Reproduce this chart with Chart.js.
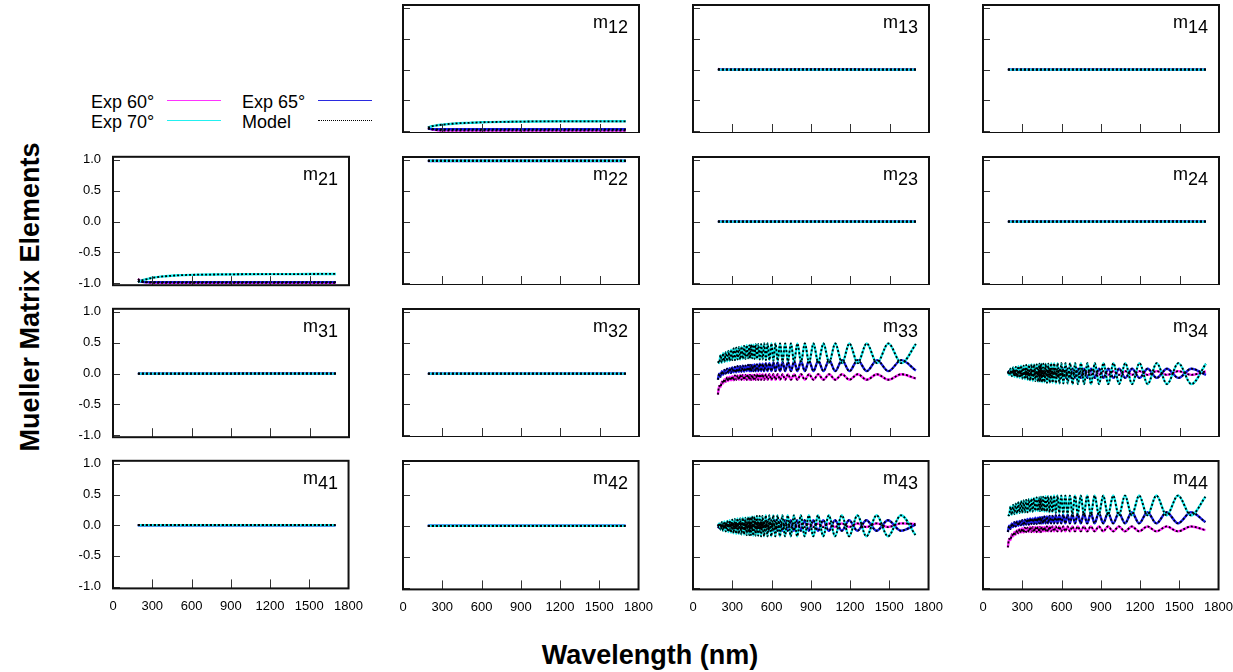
<!DOCTYPE html>
<html>
<head>
<meta charset="utf-8">
<script src="https://cdn.jsdelivr.net/npm/chart.js@4.4.1/dist/chart.umd.min.js"></script>
<style>
  body { margin: 0; background: #fff; width: 1233px; height: 672px; position: relative; overflow: hidden;
         font-family: "Liberation Sans", Arial, sans-serif; color: #000; }
  .cell { position: absolute; }
  .lbl { position: absolute; font-size: 18px; line-height: 18px; white-space: nowrap; }
  .lbl sub { font-size: 18px; vertical-align: -5px; line-height: 0; }
  .leg { position: absolute; font-size: 18px; line-height: 18px; white-space: nowrap; }
  .legline { position: absolute; width: 54px; height: 0; }
  .title { position: absolute; font-weight: bold; font-size: 27px; white-space: nowrap; }
</style>
</head>
<body>
<div class="leg" style="left:91px;top:93px">Exp 60°</div>
<div class="legline" style="left:167px;top:100px;border-top:1.5px solid #ff33ff"></div>
<div class="leg" style="left:242px;top:93px">Exp 65°</div>
<div class="legline" style="left:318px;top:100px;border-top:1.5px solid #2a2ae0"></div>
<div class="leg" style="left:91px;top:113px">Exp 70°</div>
<div class="legline" style="left:167px;top:120px;border-top:1.5px solid #22f0f0"></div>
<div class="leg" style="left:242px;top:113px">Model</div>
<div class="legline" style="left:318px;top:120px;border-top:1.5px dotted #000"></div>

<div class="title" style="left:30px;top:297px;transform:translate(-50%,-50%) rotate(-90deg)">Mueller Matrix Elements</div>
<div class="title" style="left:650px;top:655px;transform:translate(-50%,-50%)">Wavelength (nm)</div>

<script>
// tick positions
const xTicks = [0, 300, 600, 900, 1200, 1500, 1800];
const xInner = [300, 600, 900, 1200, 1500];
const yTicks = [-1.0, -0.5, 0.0, 0.5, 1.0];

// wavelength grid for the nearly flat elements
const wlFlat = [190, 220, 260, 300, 400, 500, 600, 800, 1000, 1200, 1400, 1600, 1700];

const m12_60 = [-0.94, -0.97, -0.985, -0.99, -0.99, -0.99, -0.99, -0.99, -0.99, -0.99, -0.99, -0.99, -0.99];
const m12_65 = [-0.96, -0.965, -0.97, -0.97, -0.97, -0.97, -0.97, -0.97, -0.97, -0.97, -0.97, -0.97, -0.97];
const m12_70 = [-0.94, -0.92, -0.905, -0.895, -0.875, -0.865, -0.856, -0.848, -0.842, -0.84, -0.84, -0.84, -0.84];

const m13_60 = [0.01, 0.005, 0.003, 0.002, 0.002, 0.003, 0.004, 0.006, 0.008, 0.006, 0.004, 0.003, 0.003];
const m13_65 = [0.0, 0.0, 0.0, 0.0, 0.0, 0.0, 0.0, 0.0, 0.0, 0.0, 0.0, 0.0, 0.0];
const m13_70 = [0.0, 0.0, 0.0, 0.0, 0.0, 0.0, 0.0, 0.0, 0.0, 0.0, 0.0, 0.0, 0.0];

const m14_60 = [0.005, 0.004, 0.003, 0.002, 0.002, 0.003, 0.004, 0.005, 0.005, 0.004, 0.003, 0.003, 0.003];
const m14_65 = [0.0, 0.0, 0.0, 0.0, 0.0, 0.0, 0.0, 0.0, 0.0, 0.0, 0.0, 0.0, 0.0];
const m14_70 = [0.0, 0.0, 0.0, 0.0, 0.0, 0.0, 0.0, 0.0, 0.0, 0.0, 0.0, 0.0, 0.0];

const m21_60 = [-0.93, -0.97, -0.985, -0.99, -0.99, -0.99, -0.99, -0.99, -0.99, -0.99, -0.99, -0.99, -0.99];
const m21_65 = [-0.96, -0.975, -0.98, -0.98, -0.98, -0.98, -0.98, -0.98, -0.98, -0.98, -0.98, -0.98, -0.98];
const m21_70 = [-0.98, -0.95, -0.93, -0.91, -0.885, -0.87, -0.862, -0.856, -0.852, -0.85, -0.85, -0.848, -0.848];

const m22_60 = [0.99, 0.99, 0.99, 0.99, 0.99, 0.99, 0.99, 0.99, 0.99, 0.99, 0.99, 0.99, 0.99];
const m22_65 = [0.985, 0.985, 0.985, 0.985, 0.985, 0.985, 0.985, 0.985, 0.985, 0.985, 0.985, 0.985, 0.985];
const m22_70 = [0.99, 0.99, 0.99, 0.99, 0.99, 0.99, 0.99, 0.99, 0.99, 0.99, 0.99, 0.99, 0.99];

const m23_60 = [0.005, 0.004, 0.003, 0.002, 0.002, 0.002, 0.002, 0.003, 0.003, 0.003, 0.002, 0.002, 0.002];
const m23_65 = [0.0, 0.0, 0.0, 0.0, 0.0, 0.0, 0.0, 0.0, 0.0, 0.0, 0.0, 0.0, 0.0];
const m23_70 = [0.0, 0.0, 0.0, 0.0, 0.0, 0.0, 0.0, 0.0, 0.0, 0.0, 0.0, 0.0, 0.0];

const m24_60 = [0.005, 0.004, 0.003, 0.002, 0.002, 0.002, 0.003, 0.004, 0.004, 0.005, 0.006, 0.005, 0.004];
const m24_65 = [0.0, 0.0, 0.0, 0.0, 0.0, 0.0, 0.0, 0.0, 0.0, 0.0, 0.0, 0.0, 0.0];
const m24_70 = [0.0, 0.0, 0.0, 0.0, 0.0, 0.0, 0.0, 0.0, 0.0, 0.0, 0.0, 0.0, 0.0];

const m31_60 = [0.0, 0.0, 0.0, 0.0, 0.0, 0.0, 0.0, 0.0, 0.003, 0.004, 0.004, 0.003, 0.003];
const m31_65 = [0.0, 0.0, 0.0, 0.0, 0.0, 0.0, 0.0, 0.0, 0.0, 0.0, 0.0, 0.0, 0.0];
const m31_70 = [0.0, 0.0, 0.0, 0.0, 0.0, 0.0, 0.0, 0.0, 0.0, 0.0, 0.0, 0.0, 0.0];

const m32_60 = [0.0, 0.0, 0.0, 0.0, 0.0, 0.0, 0.0, 0.0, 0.0, 0.0, 0.0, 0.0, 0.0];
const m32_65 = [0.0, 0.0, 0.0, 0.0, 0.0, 0.0, 0.0, 0.0, 0.0, 0.0, 0.0, 0.0, 0.0];
const m32_70 = [0.0, 0.0, 0.0, 0.0, 0.0, 0.0, 0.0, 0.0, 0.0, 0.0, 0.0, 0.0, 0.0];

const m41_60 = [0.0, 0.0, 0.0, 0.0, 0.0, 0.0, 0.0, 0.0, 0.0, 0.0, 0.0, 0.0, 0.0];
const m41_65 = [0.0, 0.0, 0.0, 0.0, 0.0, 0.0, 0.0, 0.0, 0.0, 0.0, 0.0, 0.0, 0.0];
const m41_70 = [0.0, 0.0, 0.0, 0.0, 0.0, 0.0, 0.0, 0.0, 0.0, 0.0, 0.0, 0.0, 0.0];

const m42_60 = [0.0, 0.0, 0.0, 0.0, 0.0, 0.0, 0.0, 0.0, 0.0, 0.0, 0.0, 0.0, 0.0];
const m42_65 = [0.0, 0.0, 0.0, 0.0, 0.0, 0.0, 0.0, 0.0, 0.0, 0.0, 0.0, 0.0, 0.0];
const m42_70 = [0.0, 0.0, 0.0, 0.0, 0.0, 0.0, 0.0, 0.0, 0.0, 0.0, 0.0, 0.0, 0.0];

// wavelength grid for the interference fringes: dense part below 430 nm,
// then one point per fringe maximum / minimum
const wlOsc = [190, 200, 210, 220, 230, 240, 250, 260, 270, 280, 290, 300, 310, 320, 330, 340, 350, 360, 370, 380, 390, 400, 410, 420, 430,
  435, 443, 451, 460, 469, 478, 488, 498, 509, 520, 531, 543, 556, 569, 583, 598, 613, 629, 646, 664,
  683, 703, 724, 747, 771, 796, 824, 853, 885, 919, 955, 995, 1038, 1085, 1137, 1193, 1256, 1325, 1403, 1490, 1589, 1700];

const m33_70 = [0.20,
  0.17, 0.30, 0.18, 0.33, 0.19, 0.35, 0.20, 0.37, 0.21, 0.39, 0.22, 0.41, 0.22, 0.42, 0.23, 0.43, 0.23, 0.44, 0.24, 0.45, 0.24, 0.46, 0.25, 0.46,
  0.25, 0.47, 0.25, 0.47, 0.24, 0.48, 0.24, 0.48, 0.23, 0.48, 0.23, 0.49, 0.22, 0.49, 0.22, 0.49, 0.21, 0.49, 0.21, 0.49,
  0.20, 0.49, 0.20, 0.49, 0.19, 0.49, 0.19, 0.49, 0.18, 0.49, 0.18, 0.49, 0.18, 0.49, 0.17, 0.49, 0.17, 0.49, 0.17, 0.49, 0.17, 0.48];
const m33_65 = [-0.10,
  0.00, -0.05, 0.04, -0.02, 0.06, 0.00, 0.08, 0.01, 0.09, 0.01, 0.10, 0.02, 0.11, 0.02, 0.12, 0.03, 0.12, 0.03, 0.13, 0.03, 0.13, 0.04, 0.14, 0.04,
  0.14, 0.04, 0.14, 0.04, 0.15, 0.04, 0.15, 0.04, 0.16, 0.04, 0.16, 0.04, 0.17, 0.04, 0.17, 0.04, 0.18, 0.04, 0.18, 0.04,
  0.19, 0.04, 0.19, 0.04, 0.20, 0.04, 0.20, 0.04, 0.21, 0.04, 0.21, 0.04, 0.22, 0.04, 0.22, 0.04, 0.22, 0.04, 0.22, 0.04, 0.22, 0.05];
const m33_60 = [-0.34,
  -0.20, -0.22, -0.13, -0.16, -0.09, -0.13, -0.06, -0.12, -0.05, -0.11, -0.04, -0.11, -0.03, -0.10, -0.03, -0.10, -0.02, -0.10, -0.02, -0.10, -0.02, -0.10, -0.02, -0.10,
  -0.02, -0.10, -0.02, -0.10, -0.02, -0.10, -0.01, -0.10, -0.01, -0.10, -0.01, -0.10, -0.01, -0.10, -0.01, -0.10, -0.01, -0.10, -0.01, -0.10,
  -0.01, -0.10, -0.01, -0.10, -0.01, -0.10, -0.01, -0.10, -0.01, -0.10, -0.01, -0.10, -0.01, -0.10, -0.01, -0.10, -0.01, -0.10, -0.01, -0.10, -0.01, -0.08];

const m34_70 = [0.03,
  -0.02, 0.08, -0.04, 0.10, -0.05, 0.11, -0.06, 0.12, -0.07, 0.13, -0.08, 0.13, -0.09, 0.14, -0.10, 0.14, -0.11, 0.15, -0.12, 0.15, -0.12, 0.15, -0.13, 0.16,
  -0.13, 0.16, -0.14, 0.16, -0.14, 0.16, -0.15, 0.16, -0.15, 0.17, -0.15, 0.17, -0.16, 0.17, -0.16, 0.17, -0.16, 0.17, -0.16, 0.17,
  -0.17, 0.17, -0.17, 0.17, -0.17, 0.17, -0.17, 0.17, -0.17, 0.17, -0.17, 0.17, -0.17, 0.17, -0.17, 0.17, -0.17, 0.17, -0.17, 0.17, -0.17, 0.16];
const m34_65 = [0.02,
  0.04, 0.00, 0.05, -0.01, 0.05, -0.02, 0.05, -0.02, 0.05, -0.03, 0.06, -0.03, 0.06, -0.04, 0.06, -0.04, 0.06, -0.04, 0.07, -0.05, 0.07, -0.05, 0.07, -0.05,
  0.07, -0.05, 0.07, -0.05, 0.07, -0.06, 0.07, -0.06, 0.08, -0.06, 0.08, -0.06, 0.08, -0.06, 0.08, -0.07, 0.08, -0.07, 0.08, -0.07,
  0.08, -0.07, 0.08, -0.07, 0.08, -0.07, 0.08, -0.07, 0.08, -0.07, 0.08, -0.07, 0.08, -0.07, 0.08, -0.07, 0.08, -0.07, 0.08, -0.07, 0.08, -0.02];
const m34_60 = [0.03,
  0.00, 0.03, 0.00, 0.03, -0.01, 0.03, -0.01, 0.03, -0.01, 0.03, -0.01, 0.03, -0.01, 0.03, -0.01, 0.03, -0.02, 0.03, -0.02, 0.03, -0.02, 0.03, -0.02, 0.03,
  -0.02, 0.03, -0.02, 0.03, -0.02, 0.03, -0.02, 0.04, -0.02, 0.04, -0.02, 0.04, -0.02, 0.04, -0.02, 0.04, -0.02, 0.04, -0.02, 0.04,
  -0.02, 0.04, -0.02, 0.04, -0.02, 0.04, -0.02, 0.04, -0.02, 0.04, -0.02, 0.04, -0.02, 0.04, -0.02, 0.04, -0.02, 0.04, -0.02, 0.04, -0.02, 0.035];

const m43_70 = [-0.01,
  0.04, -0.06, 0.06, -0.08, 0.07, -0.09, 0.08, -0.10, 0.09, -0.11, 0.10, -0.12, 0.11, -0.13, 0.12, -0.13, 0.12, -0.14, 0.13, -0.14, 0.13, -0.15, 0.14, -0.15,
  0.14, -0.15, 0.15, -0.16, 0.15, -0.16, 0.16, -0.16, 0.16, -0.17, 0.16, -0.17, 0.17, -0.17, 0.17, -0.17, 0.17, -0.17, 0.17, -0.17,
  0.17, -0.17, 0.17, -0.17, 0.17, -0.17, 0.17, -0.17, 0.17, -0.17, 0.17, -0.17, 0.17, -0.17, 0.17, -0.17, 0.17, -0.17, 0.17, -0.17, 0.17, -0.15];
const m43_65 = [-0.01,
  -0.03, 0.02, -0.04, 0.03, -0.04, 0.04, -0.05, 0.04, -0.05, 0.05, -0.05, 0.05, -0.06, 0.05, -0.06, 0.06, -0.06, 0.06, -0.07, 0.06, -0.07, 0.07, -0.07, 0.07,
  -0.07, 0.07, -0.07, 0.07, -0.07, 0.08, -0.08, 0.08, -0.08, 0.08, -0.08, 0.08, -0.08, 0.09, -0.08, 0.09, -0.08, 0.09, -0.08, 0.09,
  -0.08, 0.09, -0.08, 0.09, -0.08, 0.09, -0.08, 0.09, -0.08, 0.09, -0.08, 0.09, -0.08, 0.09, -0.08, 0.09, -0.08, 0.09, -0.08, 0.09, -0.08, 0.02];
const m43_60 = [0.00,
  0.02, -0.01, 0.02, -0.01, 0.02, -0.01, 0.02, -0.01, 0.03, -0.01, 0.03, -0.01, 0.03, -0.02, 0.03, -0.02, 0.03, -0.02, 0.03, -0.02, 0.03, -0.02, 0.03, -0.02,
  0.03, -0.02, 0.03, -0.02, 0.03, -0.02, 0.03, -0.02, 0.04, -0.02, 0.04, -0.02, 0.04, -0.02, 0.04, -0.02, 0.04, -0.02, 0.04, -0.02,
  0.04, -0.02, 0.04, -0.02, 0.04, -0.02, 0.04, -0.02, 0.04, -0.02, 0.04, -0.02, 0.04, -0.02, 0.04, -0.02, 0.04, -0.02, 0.04, -0.02, 0.04, 0.03];

const m44_70 = [0.18,
  0.17, 0.31, 0.18, 0.34, 0.19, 0.36, 0.20, 0.38, 0.21, 0.40, 0.21, 0.41, 0.22, 0.42, 0.22, 0.43, 0.23, 0.44, 0.23, 0.45, 0.24, 0.46, 0.24, 0.46,
  0.24, 0.47, 0.24, 0.47, 0.23, 0.48, 0.23, 0.48, 0.22, 0.48, 0.22, 0.49, 0.21, 0.49, 0.21, 0.49, 0.20, 0.49, 0.20, 0.49,
  0.19, 0.49, 0.19, 0.49, 0.18, 0.49, 0.18, 0.49, 0.18, 0.49, 0.17, 0.49, 0.17, 0.49, 0.17, 0.49, 0.17, 0.49, 0.17, 0.49, 0.17, 0.47];
const m44_65 = [-0.10,
  0.00, -0.05, 0.04, -0.02, 0.06, -0.01, 0.07, 0.00, 0.08, 0.01, 0.09, 0.01, 0.10, 0.02, 0.11, 0.02, 0.12, 0.03, 0.12, 0.03, 0.13, 0.03, 0.13, 0.04,
  0.14, 0.04, 0.14, 0.04, 0.15, 0.04, 0.15, 0.04, 0.16, 0.04, 0.16, 0.04, 0.17, 0.04, 0.17, 0.04, 0.18, 0.04, 0.18, 0.04,
  0.19, 0.04, 0.19, 0.04, 0.20, 0.04, 0.20, 0.04, 0.21, 0.04, 0.21, 0.04, 0.21, 0.04, 0.22, 0.04, 0.22, 0.04, 0.22, 0.04, 0.22, 0.06];
const m44_60 = [-0.35,
  -0.21, -0.23, -0.14, -0.17, -0.10, -0.14, -0.07, -0.12, -0.05, -0.11, -0.04, -0.11, -0.03, -0.10, -0.03, -0.10, -0.02, -0.10, -0.02, -0.10, -0.02, -0.10, -0.02, -0.10,
  -0.02, -0.10, -0.02, -0.09, -0.02, -0.09, -0.01, -0.09, -0.01, -0.09, -0.01, -0.09, -0.01, -0.09, -0.01, -0.09, -0.01, -0.09, -0.01, -0.09,
  -0.01, -0.09, -0.01, -0.09, -0.01, -0.09, -0.01, -0.09, -0.01, -0.09, -0.01, -0.09, -0.01, -0.09, -0.01, -0.09, -0.01, -0.09, -0.01, -0.09, -0.01, -0.07];

const panels = [
  { name: '12', row: 0, col: 1, wl: wlFlat, s60: m12_60, s65: m12_65, s70: m12_70 },
  { name: '13', row: 0, col: 2, wl: wlFlat, s60: m13_60, s65: m13_65, s70: m13_70 },
  { name: '14', row: 0, col: 3, wl: wlFlat, s60: m14_60, s65: m14_65, s70: m14_70 },
  { name: '21', row: 1, col: 0, wl: wlFlat, s60: m21_60, s65: m21_65, s70: m21_70 },
  { name: '22', row: 1, col: 1, wl: wlFlat, s60: m22_60, s65: m22_65, s70: m22_70 },
  { name: '23', row: 1, col: 2, wl: wlFlat, s60: m23_60, s65: m23_65, s70: m23_70 },
  { name: '24', row: 1, col: 3, wl: wlFlat, s60: m24_60, s65: m24_65, s70: m24_70 },
  { name: '31', row: 2, col: 0, wl: wlFlat, s60: m31_60, s65: m31_65, s70: m31_70 },
  { name: '32', row: 2, col: 1, wl: wlFlat, s60: m32_60, s65: m32_65, s70: m32_70 },
  { name: '33', row: 2, col: 2, wl: wlOsc, s60: m33_60, s65: m33_65, s70: m33_70 },
  { name: '34', row: 2, col: 3, wl: wlOsc, s60: m34_60, s65: m34_65, s70: m34_70 },
  { name: '41', row: 3, col: 0, wl: wlFlat, s60: m41_60, s65: m41_65, s70: m41_70 },
  { name: '42', row: 3, col: 1, wl: wlFlat, s60: m42_60, s65: m42_65, s70: m42_70 },
  { name: '43', row: 3, col: 2, wl: wlOsc, s60: m43_60, s65: m43_65, s70: m43_70 },
  { name: '44', row: 3, col: 3, wl: wlOsc, s60: m44_60, s65: m44_65, s70: m44_70 }
];

const colors = { c60: '#ff22ff', c65: '#1c1cee', c70: '#14eeee' };

// layout of the plot boxes
const colLeft = [113, 403, 693, 983];
const rowTop = [5, 157, 309, 461];
const boxW = 236, boxH = 128;

Chart.defaults.font.family = '"Liberation Sans", Arial, sans-serif';
Chart.defaults.color = '#000';

// frame around the plot area plus inward ticks
const framePlugin = {
  id: 'frame',
  afterDraw(chart) {
    const { ctx, chartArea: a, scales: { x, y } } = chart;
    ctx.save();
    ctx.strokeStyle = '#333';
    ctx.lineWidth = 1;
    ctx.beginPath();
    yTicks.forEach(v => {
      const py = Math.round(y.getPixelForValue(v)) + 0.5;
      ctx.moveTo(a.left, py);
      ctx.lineTo(a.left + 7, py);
    });
    xInner.forEach(v => {
      const px = Math.round(x.getPixelForValue(v)) + 0.5;
      ctx.moveTo(px, a.bottom);
      ctx.lineTo(px, a.bottom - 9);
    });
    ctx.stroke();
    ctx.strokeStyle = '#111';
    ctx.lineWidth = 2;
    ctx.strokeRect(a.left, a.top, a.right - a.left, a.bottom - a.top);
    ctx.restore();
  }
};

function pts(wl, vals) {
  return wl.map((w, i) => ({ x: w, y: vals[i] }));
}

function panelConfig(p) {
  const model = vals => ({
    data: pts(p.wl, vals), borderColor: '#000', borderWidth: 1.8, borderDash: [2, 2],
    cubicInterpolationMode: 'monotone'
  });
  const exp = (vals, c) => ({
    data: pts(p.wl, vals), borderColor: c, borderWidth: 2.4, cubicInterpolationMode: 'monotone'
  });
  return {
    type: 'line',
    data: {
      datasets: [
        model(p.s70), model(p.s65), model(p.s60),
        exp(p.s70, colors.c70), exp(p.s65, colors.c65), exp(p.s60, colors.c60)
      ]
    },
    options: {
      responsive: false,
      maintainAspectRatio: false,
      animation: false,
      devicePixelRatio: 1,
      layout: { padding: { left: 0, right: 22, top: 12, bottom: 0 } },
      elements: { point: { radius: 0 } },
      plugins: { legend: { display: false }, tooltip: { enabled: false } },
      scales: {
        x: {
          type: 'linear', min: 0, max: 1800,
          grid: { display: false, drawTicks: false },
          border: { display: false },
          afterBuildTicks: s => { s.ticks = xTicks.map(v => ({ value: v })); },
          ticks: { display: p.row === 3, padding: 10, maxRotation: 0, autoSkip: false,
                   font: { size: 13 }, callback: v => String(v) }
        },
        y: {
          type: 'linear', min: -1.03, max: 1.05,
          grid: { display: false, drawTicks: false },
          border: { display: false },
          afterFit: s => { s.width = 48; },
          afterBuildTicks: s => { s.ticks = yTicks.map(v => ({ value: v })); },
          ticks: { display: p.col === 0, padding: 12, font: { size: 13 }, callback: v => v.toFixed(1) }
        }
      }
    },
    plugins: [framePlugin]
  };
}

function addPanel(p) {
  const wrap = document.createElement('div');
  wrap.className = 'cell';
  document.body.appendChild(wrap);

  // build once, then size the canvas so the plot area comes out boxW x boxH
  let w = 48 + boxW + 22, h = 12 + boxH + 30;
  let cv = document.createElement('canvas');
  cv.width = w; cv.height = h;
  wrap.appendChild(cv);
  let chart = new Chart(cv, panelConfig(p));
  let a = chart.chartArea;
  const dw = boxW - Math.round(a.right - a.left);
  const dh = boxH - Math.round(a.bottom - a.top);
  if (dw !== 0 || dh !== 0) {
    chart.destroy();
    wrap.removeChild(cv);
    cv = document.createElement('canvas');
    cv.width = w + dw; cv.height = h + dh;
    wrap.appendChild(cv);
    chart = new Chart(cv, panelConfig(p));
    a = chart.chartArea;
  }
  wrap.style.left = Math.round(colLeft[p.col] - a.left) + 'px';
  wrap.style.top = Math.round(rowTop[p.row] - a.top) + 'px';

  const lbl = document.createElement('div');
  lbl.className = 'lbl';
  lbl.style.right = (1233 - (colLeft[p.col] + boxW - 11)) + 'px';
  lbl.style.top = (rowTop[p.row] + 8) + 'px';
  lbl.innerHTML = 'm<sub>' + p.name + '</sub>';
  document.body.appendChild(lbl);
}

panels.forEach(addPanel);
</script>
</body>
</html>
